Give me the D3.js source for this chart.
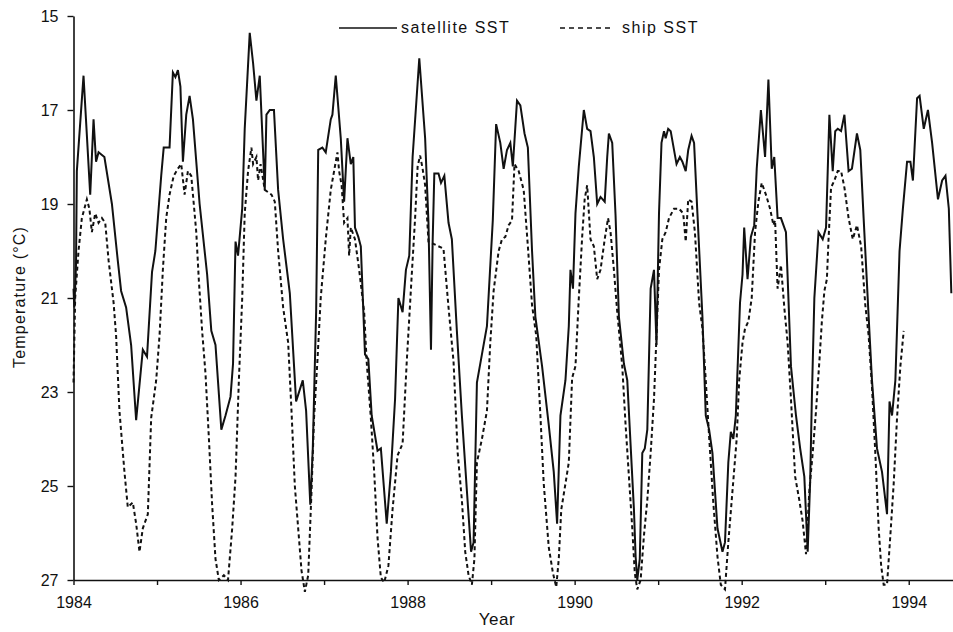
<!DOCTYPE html>
<html>
<head>
<meta charset="utf-8">
<script src="https://cdn.jsdelivr.net/npm/d3@7"></script>
<style>
  body { margin: 0; background: #fff; }
  svg { display: block; font-family: "Liberation Sans", Arial, Helvetica, sans-serif; }
</style>
</head>
<body>
<div id="chart"></div>
<script>
// satellite SST, [year, temperature]
const satelliteSST = [
  [1984.00, 20.8], [1984.01, 21.2], [1984.03, 20.3], [1984.04, 18.3], [1984.12, 16.27], [1984.20, 18.8],
  [1984.24, 17.2], [1984.27, 18.1], [1984.30, 17.9], [1984.37, 18.0], [1984.46, 19.0], [1984.53, 20.2],
  [1984.57, 20.85], [1984.63, 21.2], [1984.69, 22.0], [1984.75, 23.6], [1984.83, 22.1], [1984.88, 22.25],
  [1984.94, 20.45], [1984.98, 20.0], [1985.05, 18.4], [1985.08, 17.8], [1985.15, 17.8], [1985.19, 16.2],
  [1985.22, 16.3], [1985.25, 16.15], [1985.28, 16.5], [1985.31, 18.1], [1985.35, 17.1], [1985.39, 16.7],
  [1985.43, 17.2], [1985.51, 19.0], [1985.60, 20.5], [1985.65, 21.7], [1985.70, 22.0], [1985.77, 23.8],
  [1985.82, 23.5], [1985.88, 23.1], [1985.91, 22.4], [1985.94, 19.8], [1985.97, 20.1], [1986.02, 19.1],
  [1986.05, 17.4], [1986.11, 15.36], [1986.15, 16.0], [1986.19, 16.8], [1986.23, 16.27], [1986.29, 18.7],
  [1986.31, 17.1], [1986.35, 17.0], [1986.40, 17.0], [1986.45, 18.7], [1986.51, 19.75], [1986.59, 20.9],
  [1986.665, 23.2], [1986.745, 22.75], [1986.785, 23.4], [1986.835, 25.4], [1986.865, 24.2], [1986.905, 21.3],
  [1986.93, 17.85], [1986.98, 17.8], [1987.02, 17.9], [1987.08, 17.2], [1987.10, 17.1], [1987.14, 16.27],
  [1987.20, 17.6], [1987.24, 18.95], [1987.28, 17.6], [1987.32, 18.15], [1987.35, 18.0], [1987.37, 19.5],
  [1987.41, 19.7], [1987.44, 19.9], [1987.49, 22.2], [1987.53, 22.3], [1987.57, 23.5], [1987.64, 24.25],
  [1987.68, 24.2], [1987.75, 25.8], [1987.80, 24.7], [1987.85, 23.15], [1987.89, 21.0], [1987.94, 21.3],
  [1987.98, 20.4], [1988.02, 20.1], [1988.06, 18.0], [1988.14, 15.9], [1988.21, 17.6], [1988.25, 19.4],
  [1988.28, 22.1], [1988.30, 19.8], [1988.32, 18.35], [1988.37, 18.35], [1988.40, 18.55], [1988.44, 18.4],
  [1988.49, 19.4], [1988.53, 19.75], [1988.59, 21.7], [1988.65, 23.5], [1988.71, 25.1], [1988.76, 26.4],
  [1988.79, 26.2], [1988.83, 22.8], [1988.89, 22.2], [1988.95, 21.6], [1989.02, 19.35], [1989.06, 17.3],
  [1989.11, 17.7], [1989.15, 18.25], [1989.19, 17.85], [1989.23, 17.7], [1989.26, 18.2], [1989.31, 16.8],
  [1989.35, 16.9], [1989.40, 17.5], [1989.44, 17.8], [1989.49, 20.0], [1989.53, 21.4], [1989.61, 22.45],
  [1989.69, 23.7], [1989.75, 24.7], [1989.79, 25.8], [1989.83, 23.5], [1989.89, 22.75], [1989.93, 21.6],
  [1989.95, 20.4], [1989.98, 20.8], [1990.01, 19.2], [1990.05, 18.2], [1990.11, 17.0], [1990.15, 17.4],
  [1990.19, 17.45], [1990.23, 18.0], [1990.27, 19.0], [1990.31, 18.85], [1990.36, 18.95], [1990.39, 18.0],
  [1990.41, 17.5], [1990.45, 17.7], [1990.49, 19.25], [1990.53, 21.4], [1990.59, 22.4], [1990.63, 22.75],
  [1990.71, 25.5], [1990.73, 26.5], [1990.75, 27.0], [1990.78, 26.55], [1990.81, 24.3], [1990.84, 24.2],
  [1990.87, 23.8], [1990.91, 20.8], [1990.95, 20.4], [1990.98, 22.0], [1991.01, 19.2], [1991.04, 17.7],
  [1991.07, 17.45], [1991.09, 17.6], [1991.12, 17.4], [1991.15, 17.45], [1991.22, 18.15], [1991.26, 18.0],
  [1991.29, 18.1], [1991.33, 18.3], [1991.36, 17.85], [1991.40, 17.55], [1991.43, 17.7], [1991.47, 19.2],
  [1991.53, 21.4], [1991.57, 23.5], [1991.61, 23.8], [1991.65, 24.3], [1991.71, 25.9], [1991.77, 26.4],
  [1991.80, 26.2], [1991.84, 24.5], [1991.87, 23.85], [1991.90, 24.0], [1991.93, 23.5], [1991.98, 21.1],
  [1992.01, 20.5], [1992.03, 19.5], [1992.07, 20.6], [1992.11, 19.7], [1992.15, 19.45], [1992.18, 18.25],
  [1992.23, 17.0], [1992.28, 18.0], [1992.32, 16.35], [1992.36, 18.25], [1992.39, 18.0], [1992.43, 19.3],
  [1992.47, 19.3], [1992.53, 19.6], [1992.59, 22.45], [1992.65, 23.5], [1992.70, 24.2], [1992.75, 24.8],
  [1992.79, 26.4], [1992.82, 24.9], [1992.84, 23.15], [1992.87, 21.0], [1992.92, 19.6], [1992.97, 19.75],
  [1993.01, 19.5], [1993.04, 17.7], [1993.05, 17.1], [1993.09, 18.3], [1993.12, 17.45], [1993.15, 17.4],
  [1993.19, 17.45], [1993.23, 17.1], [1993.28, 18.3], [1993.32, 18.25], [1993.38, 17.5], [1993.42, 17.85],
  [1993.46, 19.3], [1993.52, 21.4], [1993.56, 22.75], [1993.62, 24.2], [1993.68, 24.7], [1993.74, 25.6],
  [1993.77, 23.2], [1993.80, 23.5], [1993.84, 22.75], [1993.89, 20.0], [1993.93, 19.1], [1993.98, 18.1],
  [1994.02, 18.1], [1994.05, 18.5], [1994.10, 16.75], [1994.13, 16.7], [1994.18, 17.4], [1994.23, 17.0],
  [1994.28, 17.7], [1994.35, 18.9], [1994.40, 18.5], [1994.44, 18.4], [1994.48, 19.1], [1994.51, 20.9]
];

// ship SST, [year, temperature]
const shipSST = [
  [1984.00, 22.8], [1984.02, 21.0], [1984.06, 20.0], [1984.10, 19.3], [1984.16, 18.9], [1984.19, 19.1],
  [1984.22, 19.6], [1984.26, 19.2], [1984.30, 19.4], [1984.34, 19.3], [1984.38, 19.4], [1984.42, 20.2],
  [1984.48, 21.1], [1984.51, 21.8], [1984.55, 23.4], [1984.61, 24.7], [1984.65, 25.45], [1984.71, 25.35],
  [1984.75, 25.8], [1984.79, 26.4], [1984.83, 25.9], [1984.89, 25.6], [1984.93, 23.55], [1984.99, 22.75],
  [1985.03, 21.8], [1985.07, 20.4], [1985.11, 19.3], [1985.15, 18.8], [1985.20, 18.4], [1985.25, 18.25],
  [1985.29, 18.15], [1985.33, 18.8], [1985.37, 18.3], [1985.41, 18.4], [1985.47, 19.6], [1985.50, 20.6],
  [1985.54, 21.7], [1985.58, 22.6], [1985.62, 23.95], [1985.66, 25.4], [1985.70, 26.55], [1985.74, 27.0],
  [1985.80, 26.9], [1985.85, 27.0], [1985.90, 25.9], [1985.94, 24.8], [1985.98, 22.75], [1986.02, 21.0],
  [1986.05, 19.2], [1986.09, 18.3], [1986.13, 17.8], [1986.15, 18.15], [1986.19, 18.0], [1986.21, 18.5],
  [1986.24, 18.15], [1986.29, 18.7], [1986.37, 18.8], [1986.41, 18.95], [1986.45, 20.0], [1986.51, 21.2],
  [1986.57, 21.95], [1986.61, 23.4], [1986.65, 25.0], [1986.69, 25.9], [1986.73, 26.8], [1986.77, 27.25],
  [1986.81, 26.9], [1986.85, 25.1], [1986.88, 23.55], [1986.92, 22.35], [1986.96, 21.0], [1987.02, 19.75],
  [1987.08, 18.7], [1987.12, 18.3], [1987.16, 17.9], [1987.18, 18.3], [1987.21, 18.6], [1987.24, 19.4],
  [1987.28, 19.3], [1987.30, 20.1], [1987.32, 19.5], [1987.37, 19.75], [1987.42, 20.4], [1987.48, 21.3],
  [1987.51, 22.35], [1987.56, 23.55], [1987.60, 24.7], [1987.64, 26.1], [1987.68, 26.95], [1987.72, 27.05],
  [1987.77, 26.7], [1987.82, 25.5], [1987.88, 24.35], [1987.94, 24.1], [1987.99, 22.35], [1988.05, 20.5],
  [1988.09, 19.3], [1988.12, 18.2], [1988.15, 17.97], [1988.18, 18.25], [1988.21, 18.6], [1988.25, 19.8],
  [1988.31, 19.85], [1988.43, 19.95], [1988.49, 21.2], [1988.55, 22.35], [1988.60, 24.3], [1988.65, 25.3],
  [1988.69, 26.4], [1988.73, 26.9], [1988.77, 27.1], [1988.80, 26.55], [1988.83, 24.5], [1988.89, 24.0],
  [1988.95, 23.4], [1988.99, 21.95], [1989.03, 20.85], [1989.09, 20.0], [1989.13, 19.75], [1989.17, 19.7],
  [1989.21, 19.45], [1989.25, 19.35], [1989.28, 18.15], [1989.33, 18.3], [1989.39, 18.7], [1989.44, 19.9],
  [1989.49, 21.15], [1989.54, 21.8], [1989.59, 23.5], [1989.63, 24.95], [1989.69, 26.3], [1989.74, 26.85],
  [1989.78, 27.15], [1989.81, 26.55], [1989.84, 25.5], [1989.89, 24.95], [1989.93, 24.5], [1989.97, 22.7],
  [1990.01, 22.45], [1990.05, 21.0], [1990.09, 19.7], [1990.12, 18.9], [1990.15, 18.6], [1990.19, 19.75],
  [1990.23, 19.9], [1990.27, 20.6], [1990.31, 20.4], [1990.36, 19.75], [1990.40, 19.3], [1990.43, 19.6],
  [1990.47, 20.4], [1990.51, 21.3], [1990.57, 22.45], [1990.61, 23.7], [1990.65, 24.8], [1990.69, 25.9],
  [1990.72, 26.85], [1990.75, 27.2], [1990.79, 27.0], [1990.83, 26.05], [1990.87, 25.3], [1990.91, 24.3],
  [1990.95, 23.15], [1990.98, 21.8], [1991.01, 20.4], [1991.05, 19.75], [1991.09, 19.6], [1991.13, 19.3],
  [1991.19, 19.1], [1991.25, 19.1], [1991.30, 19.2], [1991.33, 19.8], [1991.36, 18.9], [1991.40, 18.95],
  [1991.44, 19.6], [1991.49, 21.1], [1991.53, 21.65], [1991.57, 22.75], [1991.61, 23.95], [1991.66, 25.35],
  [1991.71, 26.5], [1991.75, 27.1], [1991.80, 27.2], [1991.84, 26.2], [1991.89, 25.1], [1991.94, 24.0],
  [1991.97, 22.75], [1992.01, 21.95], [1992.04, 21.65], [1992.08, 21.5], [1992.12, 21.0], [1992.16, 19.6],
  [1992.20, 18.95], [1992.24, 18.55], [1992.29, 18.8], [1992.34, 19.1], [1992.38, 19.45], [1992.40, 19.35],
  [1992.43, 20.8], [1992.47, 20.3], [1992.51, 21.2], [1992.55, 21.95], [1992.59, 23.15], [1992.64, 24.8],
  [1992.69, 25.3], [1992.73, 25.75], [1992.77, 26.45], [1992.81, 25.1], [1992.85, 24.3], [1992.89, 23.4],
  [1992.93, 22.35], [1992.96, 21.5], [1992.99, 20.85], [1993.02, 20.6], [1993.04, 19.75], [1993.07, 18.65],
  [1993.11, 18.5], [1993.15, 18.3], [1993.19, 18.3], [1993.23, 18.65], [1993.28, 19.3], [1993.33, 19.75],
  [1993.38, 19.45], [1993.43, 19.9], [1993.48, 21.15], [1993.52, 21.8], [1993.56, 22.9], [1993.60, 24.3],
  [1993.64, 25.9], [1993.67, 26.7], [1993.70, 27.1], [1993.74, 27.1], [1993.78, 26.05], [1993.82, 24.95],
  [1993.86, 23.55], [1993.90, 22.45], [1993.94, 21.7]
];

const yTicks = [15, 17, 19, 21, 23, 25, 27];
const xTicks = [1984, 1985, 1986, 1987, 1988, 1989, 1990, 1991, 1992, 1993, 1994];
const xLabels = [1984, 1986, 1988, 1990, 1992, 1994];
const seriesNames = ["satellite SST", "ship SST"];

const width = 953, height = 632;

const svg = d3.select("#chart")
    .append("svg")
    .attr("width", width)
    .attr("height", height);

svg.append("rect").attr("width", width).attr("height", height).attr("fill", "#fff");

// inverted temperature axis: cold at the top
const x = d3.scaleLinear().domain([1984, 1994.53]).range([73.5, 953]);
const y = d3.scaleLinear().domain([15, 27]).range([16, 580]);

const line = d3.line()
    .x(d => x(d[0]))
    .y(d => y(d[1]));

// data lines
svg.append("path")
    .datum(satelliteSST)
    .attr("d", line)
    .attr("fill", "none")
    .attr("stroke", "#111")
    .attr("stroke-width", 2)
    .attr("stroke-linejoin", "miter");

svg.append("path")
    .datum(shipSST)
    .attr("d", line)
    .attr("fill", "none")
    .attr("stroke", "#111")
    .attr("stroke-width", 2)
    .attr("stroke-dasharray", "4,3");

// axes
const yAxis = svg.append("g")
    .attr("transform", `translate(${x(1984)},0)`)
    .call(d3.axisLeft(y).tickValues(yTicks).tickSize(6).tickSizeOuter(0).tickPadding(9));

const xAxis = svg.append("g")
    .attr("transform", `translate(0,${y(27)})`)
    .call(d3.axisBottom(x).tickValues(xTicks).tickSize(5).tickSizeOuter(0).tickPadding(12)
        .tickFormat(d => xLabels.includes(d) ? d : ""));

[yAxis, xAxis].forEach(g => {
    g.select(".domain").attr("stroke", "#111").attr("stroke-width", 1.6);
    g.selectAll(".tick line").attr("stroke", "#111").attr("stroke-width", 1.4);
    g.selectAll(".tick text")
        .attr("fill", "#111")
        .style("font-size", "16px")
        .style("font-family", '"Liberation Sans", Arial, sans-serif');
});

// axis titles
svg.append("text")
    .attr("x", 497)
    .attr("y", 625)
    .attr("text-anchor", "middle")
    .style("font-size", "17px")
    .style("letter-spacing", "0.5px")
    .attr("fill", "#111")
    .text("Year");

svg.append("text")
    .attr("transform", `translate(25, 297) rotate(-90)`)
    .attr("text-anchor", "middle")
    .style("font-size", "16px")
    .style("letter-spacing", "1.2px")
    .attr("fill", "#111")
    .text("Temperature (°C)");

// legend
const legend = svg.append("g");

legend.append("line")
    .attr("x1", 339).attr("x2", 397).attr("y1", 28).attr("y2", 28)
    .attr("stroke", "#111").attr("stroke-width", 1.5);

legend.append("text")
    .attr("x", 401).attr("y", 33)
    .style("font-size", "16px")
    .style("letter-spacing", "1.5px")
    .attr("fill", "#111")
    .text(seriesNames[0]);

legend.append("line")
    .attr("x1", 560).attr("x2", 613).attr("y1", 28).attr("y2", 28)
    .attr("stroke", "#111").attr("stroke-width", 1.5)
    .attr("stroke-dasharray", "5,4");

legend.append("text")
    .attr("x", 622).attr("y", 33)
    .style("font-size", "16px")
    .style("letter-spacing", "1.5px")
    .attr("fill", "#111")
    .text(seriesNames[1]);
</script>
</body>
</html>
